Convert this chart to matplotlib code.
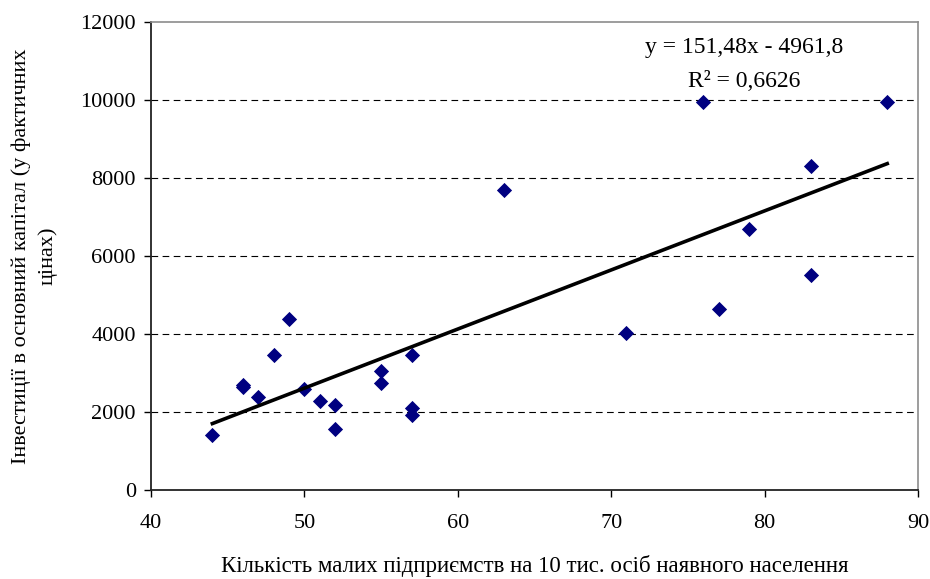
import numpy as np
import matplotlib.pyplot as plt

# Small enterprises per 10k residents vs. capital investment
enterprises = [44, 46, 46, 47, 48, 49, 50, 51, 52, 52, 55, 55, 57, 57, 57,
               63, 71, 76, 77, 79, 83, 83, 88]
investment = [1420, 2700, 2650, 2380, 3450, 4380, 2590, 2290, 2180, 1570,
              3060, 2740, 3460, 2100, 1930, 7700, 4020, 9950, 4640, 6680,
              8320, 5510, 9950]

slope = 151.48
intercept = -4961.8
r2 = 0.6626

plt.rcParams['font.family'] = ['Liberation Serif', 'DejaVu Serif']

fig = plt.figure(figsize=(9.3, 5.79), dpi=100)
ax = fig.add_axes([0.1624, 0.1537, 0.8246, 0.8083])

ax.scatter(enterprises, investment, marker='D', s=60, color='#000080',
           zorder=3, linewidths=0)

xs = np.array([min(enterprises), max(enterprises)])
ax.plot(xs, slope * xs + intercept, color='black', lw=2.6, zorder=4)

ax.set_xlim(40, 90)
ax.set_ylim(0, 12000)
ax.set_xticks(range(40, 91, 10))
ax.set_yticks(range(0, 12001, 2000))
for yv in range(2000, 12000, 2000):
    ax.axhline(yv, color='black', lw=0.8, dashes=(6, 4), zorder=1)

ax.tick_params(axis='both', labelsize=16, direction='out', length=5,
               width=1)
ax.tick_params(axis='x', pad=12)
ax.tick_params(axis='y', pad=6)
for side in ['left', 'bottom']:
    ax.spines[side].set_color('#222222')
    ax.spines[side].set_linewidth(1.3)
for side in ['top', 'right']:
    ax.spines[side].set_color('#8c8c8c')
    ax.spines[side].set_linewidth(1.2)

ax.set_xlabel('Кількість малих підприємств на 10 тис. осіб наявного населення',
              fontsize=16.5, labelpad=16)
ax.set_ylabel('Інвестиції в основний капітал (у фактичних\nцінах)',
              fontsize=16, labelpad=16, multialignment='center',
              linespacing=1.5)

ax.text(0.774, 0.945, f'y = {slope:.2f}x - {abs(intercept):.1f}'.replace('.', ','),
        transform=ax.transAxes, ha='center', va='center', fontsize=17)
ax.text(0.774, 0.872, f'R² = {r2:.4f}'.replace('.', ','),
        transform=ax.transAxes, ha='center', va='center', fontsize=17)

fig.savefig('out.png', dpi=100)
